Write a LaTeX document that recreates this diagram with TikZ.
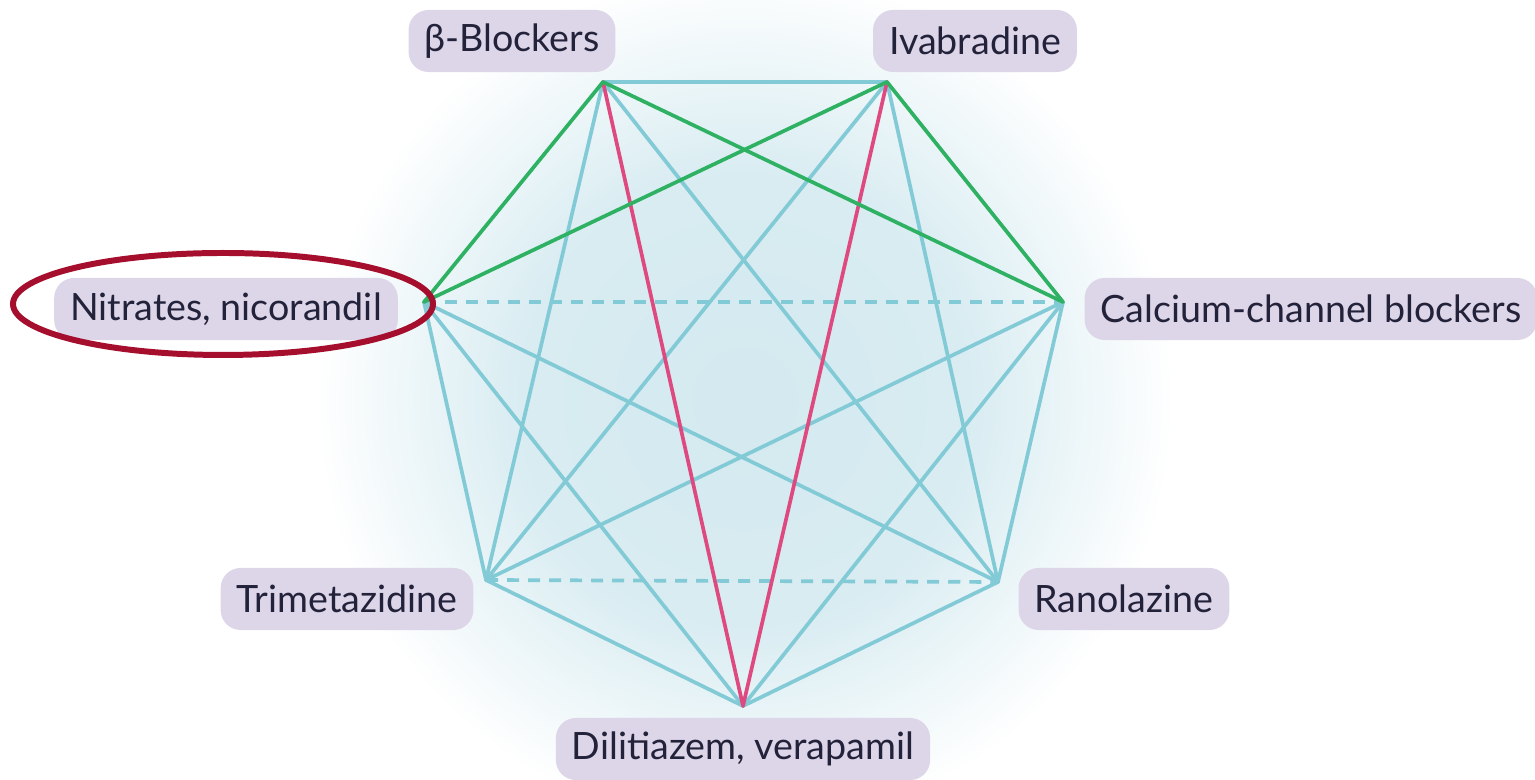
\documentclass[tikz,border=0pt]{standalone}
\usepackage{fontspec}
\setmainfont{Lato}
\usetikzlibrary{shapes.geometric}
\definecolor{glowin}{HTML}{D4EAF0}
\definecolor{edgeteal}{HTML}{82CAD6}
\definecolor{edgegreen}{HTML}{2EB163}
\definecolor{edgepink}{HTML}{DE4A80}
\definecolor{labelfill}{HTML}{DDD5E8}
\definecolor{labeltext}{HTML}{22223A}
\definecolor{ringred}{HTML}{A50F2D}
\pgfdeclareradialshading{glow}{\pgfpoint{0bp}{0bp}}{color(0bp)=(glowin); color(13bp)=(glowin!90!white); color(25bp)=(white); color(50bp)=(white)}
\def\edgewidth{1.05pt}
\tikzset{drug/.style={fill=labelfill, rounded corners=0.2cm, minimum height=0.62cm, inner xsep=0.16cm, text=labeltext, font=\fontsize{10.7}{12}\selectfont}}
\tikzset{link/.style={line width=\edgewidth, edgeteal, line cap=round}}
\tikzset{goodlink/.style={link, edgegreen}}
\tikzset{badlink/.style={link, edgepink}}
\tikzset{maybelink/.style={link, dashed, dash pattern=on 0.12cm off 0.09cm, line cap=butt}}

\begin{document}
\begin{tikzpicture}[x=0.01cm, y=-0.01cm]
\useasboundingbox (0,0) rectangle (1535,780);
\shade[shading=glow] (745,400) circle (430);

\coordinate (bb) at (603, 82);
\coordinate (iv) at (887, 82);
\coordinate (cc) at (1063, 302);
\coordinate (ra) at (998, 582);
\coordinate (dv) at (743, 706);
\coordinate (tm) at (486, 580);
\coordinate (nn) at (424, 302);

\draw[link] (bb) to (iv);
\draw[link] (bb) to (ra);
\draw[link] (bb) to (tm);
\draw[link] (iv) to (ra);
\draw[link] (iv) to (tm);
\draw[link] (cc) to (ra);
\draw[link] (cc) to (dv);
\draw[link] (cc) to (tm);
\draw[link] (ra) to (dv);
\draw[link] (ra) to (nn);
\draw[link] (dv) to (tm);
\draw[link] (dv) to (nn);
\draw[link] (tm) to (nn);
\draw[maybelink] (nn) to (cc);
\draw[maybelink] (tm) to (ra);
\draw[badlink] (bb) to (dv);
\draw[badlink] (iv) to (dv);
\draw[goodlink] (bb) to (nn);
\draw[goodlink] (bb) to (cc);
\draw[goodlink] (iv) to (nn);
\draw[goodlink] (iv) to (cc);

\node (bbl) [drug] at (512, 41) {β-Blockers};
\node (ivl) [drug] at (975, 41) {Ivabradine};
\node (ccl) [drug] at (1311, 309) {Calcium-channel blockers};
\node (ral) [drug] at (1124, 599) {Ranolazine};
\node (dvl) [drug] at (743, 749) {Dilitiazem, verapamil};
\node (tml) [drug] at (347, 599) {Trimetazidine};
\node (nnl) [drug] at (226, 309) {Nitrates, nicorandil};

\draw[ringred, line width=1.7pt] (223, 304) ellipse (210 and 51);
\end{tikzpicture}
\end{document}
